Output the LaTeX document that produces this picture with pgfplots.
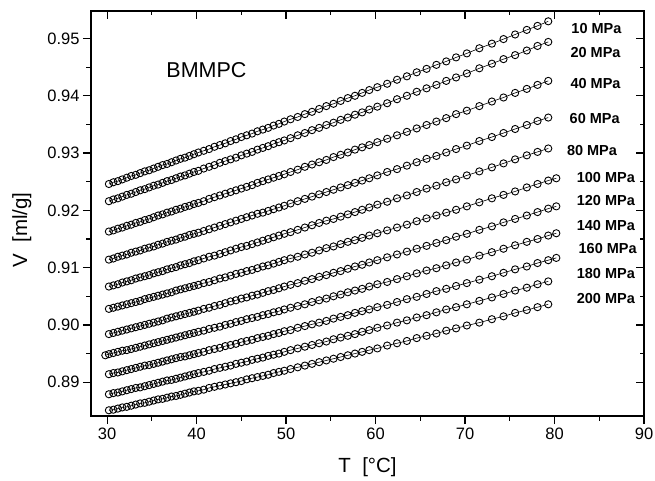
\documentclass[border=0pt]{standalone}
\usepackage{fontspec}
\setmainfont{Liberation Sans}
\usepackage{pgfplots}
\usepackage{pgfplotstable}
\pgfplotsset{compat=1.18}

% specific volume V [ml/g] against T [C], one column per pressure
% a=10 b=20 c=40 d=60 e=80 f=100 g=120 h=140 i=160 j=180 k=200 MPa
\pgfplotstableread{
T    a      b      c      d      e      f      g      h      i      j      k
29.8 nan    nan    nan    nan    nan    nan    nan    0.8947 nan    nan    nan
30.2 0.9246 0.9216 0.9163 0.9114 0.9067 0.9028 0.8984 0.8949 0.8914 0.8879 0.8851
30.7 0.9249 0.9219 0.9165 0.9116 0.9069 0.9030 0.8986 0.8951 0.8916 0.8881 0.8852
31.2 0.9251 0.9221 0.9168 0.9119 0.9071 0.9032 0.8988 0.8953 0.8917 0.8882 0.8854
31.7 0.9254 0.9224 0.9170 0.9121 0.9074 0.9034 0.8990 0.8955 0.8919 0.8884 0.8856
32.2 0.9257 0.9227 0.9173 0.9123 0.9076 0.9036 0.8992 0.8956 0.8921 0.8886 0.8857
32.7 0.9260 0.9229 0.9175 0.9126 0.9078 0.9038 0.8994 0.8958 0.8923 0.8888 0.8859
33.2 0.9262 0.9232 0.9178 0.9128 0.9081 0.9040 0.8996 0.8960 0.8925 0.8890 0.8861
33.7 0.9265 0.9235 0.9180 0.9130 0.9083 0.9042 0.8998 0.8962 0.8927 0.8891 0.8863
34.2 0.9268 0.9237 0.9183 0.9133 0.9085 0.9045 0.9000 0.8964 0.8929 0.8893 0.8864
34.7 0.9270 0.9240 0.9185 0.9135 0.9087 0.9047 0.9002 0.8966 0.8930 0.8895 0.8866
35.2 0.9273 0.9243 0.9188 0.9137 0.9090 0.9049 0.9004 0.8968 0.8932 0.8897 0.8868
35.7 0.9276 0.9245 0.9191 0.9140 0.9092 0.9051 0.9006 0.8970 0.8934 0.8899 0.8870
36.2 0.9279 0.9248 0.9193 0.9142 0.9094 0.9053 0.9008 0.8972 0.8936 0.8901 0.8871
36.7 0.9281 0.9251 0.9196 0.9145 0.9097 0.9055 0.9011 0.8974 0.8938 0.8903 0.8873
37.2 0.9284 0.9253 0.9198 0.9147 0.9099 0.9057 0.9013 0.8976 0.8940 0.8904 0.8875
37.7 0.9287 0.9256 0.9201 0.9149 0.9101 0.9060 0.9015 0.8978 0.8942 0.8906 0.8876
38.2 0.9290 0.9259 0.9203 0.9152 0.9104 0.9062 0.9017 0.8980 0.8944 0.8908 0.8878
38.7 0.9292 0.9261 0.9206 0.9154 0.9106 0.9064 0.9019 0.8982 0.8945 0.8910 0.8880
39.2 0.9295 0.9264 0.9208 0.9157 0.9108 0.9066 0.9021 0.8984 0.8947 0.8912 0.8882
39.7 0.9298 0.9267 0.9211 0.9159 0.9111 0.9068 0.9023 0.8986 0.8949 0.8914 0.8884
40.2 0.9301 0.9269 0.9213 0.9161 0.9113 0.9070 0.9025 0.8988 0.8951 0.8916 0.8885
40.8 0.9304 0.9273 0.9216 0.9164 0.9116 0.9073 0.9028 0.8990 0.8953 0.8918 0.8887
41.4 0.9307 0.9276 0.9220 0.9167 0.9119 0.9075 0.9030 0.8993 0.8956 0.8920 0.8890
42.0 0.9311 0.9279 0.9223 0.9170 0.9121 0.9078 0.9033 0.8995 0.8958 0.8923 0.8892
42.6 0.9314 0.9283 0.9226 0.9173 0.9124 0.9081 0.9035 0.8997 0.8960 0.8925 0.8894
43.2 0.9317 0.9286 0.9229 0.9176 0.9127 0.9083 0.9038 0.9000 0.8963 0.8927 0.8896
43.8 0.9321 0.9289 0.9232 0.9179 0.9130 0.9086 0.9041 0.9002 0.8965 0.8929 0.8898
44.4 0.9324 0.9292 0.9235 0.9182 0.9133 0.9089 0.9043 0.9005 0.8967 0.8932 0.8900
45.0 0.9328 0.9296 0.9238 0.9185 0.9136 0.9091 0.9046 0.9007 0.8970 0.8934 0.8902
45.6 0.9331 0.9299 0.9241 0.9188 0.9138 0.9094 0.9048 0.9010 0.8972 0.8936 0.8905
46.2 0.9334 0.9302 0.9244 0.9191 0.9141 0.9096 0.9051 0.9012 0.8974 0.8939 0.8907
46.8 0.9338 0.9306 0.9248 0.9194 0.9144 0.9099 0.9053 0.9014 0.8977 0.8941 0.8909
47.4 0.9341 0.9309 0.9251 0.9196 0.9147 0.9102 0.9056 0.9017 0.8979 0.8943 0.8911
48.0 0.9344 0.9312 0.9254 0.9199 0.9150 0.9104 0.9059 0.9019 0.8981 0.8946 0.8913
48.6 0.9348 0.9316 0.9257 0.9202 0.9153 0.9107 0.9061 0.9022 0.8984 0.8948 0.8916
49.2 0.9351 0.9319 0.9260 0.9205 0.9156 0.9110 0.9064 0.9024 0.8986 0.8950 0.8918
49.8 0.9355 0.9322 0.9263 0.9208 0.9159 0.9113 0.9067 0.9027 0.8989 0.8953 0.8920
50.5 0.9359 0.9326 0.9267 0.9212 0.9162 0.9116 0.9070 0.9030 0.8991 0.8956 0.8923
51.3 0.9363 0.9331 0.9271 0.9216 0.9166 0.9119 0.9073 0.9033 0.8995 0.8959 0.8926
52.1 0.9368 0.9335 0.9276 0.9220 0.9170 0.9123 0.9077 0.9036 0.8998 0.8962 0.8929
52.9 0.9372 0.9340 0.9280 0.9224 0.9174 0.9126 0.9080 0.9040 0.9001 0.8965 0.8932
53.7 0.9377 0.9344 0.9284 0.9228 0.9178 0.9130 0.9084 0.9043 0.9004 0.8968 0.8935
54.5 0.9382 0.9349 0.9288 0.9232 0.9182 0.9134 0.9087 0.9046 0.9007 0.8971 0.8938
55.3 0.9386 0.9353 0.9293 0.9236 0.9185 0.9137 0.9091 0.9050 0.9011 0.8975 0.8941
56.1 0.9391 0.9358 0.9297 0.9240 0.9189 0.9141 0.9094 0.9053 0.9014 0.8978 0.8944
56.9 0.9396 0.9362 0.9301 0.9244 0.9193 0.9145 0.9098 0.9057 0.9017 0.8981 0.8947
57.7 0.9400 0.9367 0.9306 0.9248 0.9197 0.9148 0.9102 0.9060 0.9021 0.8984 0.8950
58.5 0.9405 0.9371 0.9310 0.9252 0.9201 0.9152 0.9105 0.9063 0.9024 0.8988 0.8953
59.3 0.9410 0.9376 0.9314 0.9256 0.9205 0.9156 0.9109 0.9067 0.9027 0.8991 0.8956
60.2 0.9415 0.9381 0.9319 0.9261 0.9210 0.9160 0.9113 0.9071 0.9031 0.8995 0.8959
61.3 0.9421 0.9387 0.9325 0.9267 0.9215 0.9165 0.9118 0.9075 0.9035 0.8999 0.8964
62.4 0.9428 0.9394 0.9331 0.9272 0.9221 0.9170 0.9123 0.9080 0.9040 0.9004 0.8968
63.5 0.9434 0.9400 0.9337 0.9278 0.9226 0.9175 0.9128 0.9085 0.9045 0.9008 0.8972
64.6 0.9441 0.9407 0.9343 0.9284 0.9232 0.9181 0.9133 0.9090 0.9049 0.9013 0.8977
65.7 0.9447 0.9413 0.9349 0.9290 0.9238 0.9186 0.9138 0.9095 0.9054 0.9017 0.8981
66.8 0.9454 0.9419 0.9355 0.9295 0.9243 0.9191 0.9143 0.9099 0.9059 0.9022 0.8985
67.9 0.9460 0.9426 0.9361 0.9301 0.9249 0.9196 0.9148 0.9104 0.9063 0.9027 0.8990
69.0 0.9467 0.9432 0.9368 0.9307 0.9254 0.9201 0.9154 0.9109 0.9068 0.9031 0.8994
70.2 0.9474 0.9439 0.9374 0.9313 0.9261 0.9207 0.9159 0.9114 0.9073 0.9036 0.8999
71.6 0.9483 0.9448 0.9382 0.9321 0.9268 0.9214 0.9166 0.9121 0.9079 0.9042 0.9004
73.0 0.9491 0.9456 0.9390 0.9328 0.9275 0.9221 0.9172 0.9127 0.9085 0.9048 0.9010
74.3 0.9499 0.9464 0.9397 0.9335 0.9282 0.9227 0.9179 0.9133 0.9091 0.9054 0.9015
75.6 0.9507 0.9471 0.9405 0.9342 0.9289 0.9233 0.9185 0.9139 0.9097 0.9060 0.9021
76.9 0.9515 0.9479 0.9412 0.9349 0.9296 0.9240 0.9191 0.9145 0.9102 0.9065 0.9026
78.1 0.9522 0.9487 0.9419 0.9356 0.9302 0.9246 0.9197 0.9150 0.9108 0.9071 0.9031
79.3 0.9530 0.9494 0.9426 0.9362 0.9308 0.9252 0.9203 0.9156 0.9113 0.9076 0.9036
80.2 nan    nan    nan    nan    nan    0.9256 0.9207 0.9160 0.9117 nan    nan
}\vdata

\pgfplotsset{
  bmmpc frame/.style={
    scale only axis, width=553pt, height=405pt,
    at={(0pt,0pt)}, anchor=south west,
    xmin=28.2, xmax=90, ymin=0.8841, ymax=0.9548,
    xtick={30,40,...,90}, ytick={0.89,0.90,...,0.95},
    minor x tick num=1, minor y tick num=1,
    axis line style={line width=1.5pt},
    every tick/.style={black, line width=1.2pt},
    major tick length=8pt, minor tick length=4.5pt,
  },
}

\begin{document}
\begin{tikzpicture}
% ticks mirrored on top and right, pointing inward
\begin{axis}[bmmpc frame,
    xtick pos=upper, ytick pos=right, tick align=inside,
    xticklabels={}, yticklabels={}]
\end{axis}

\begin{axis}[bmmpc frame, name=ax, clip=false,
    xtick pos=lower, ytick pos=left, tick align=outside,
    tick label style={font=\fontsize{16.5}{16.5}\selectfont},
    /pgf/number format/assume math mode=true,
    yticklabel style={/pgf/number format/.cd, fixed, fixed zerofill, precision=2},
    xlabel={T\ \ [°C]}, ylabel={V\ \ [ml/g]},
    label style={font=\fontsize{20.5}{20.5}\selectfont},
    xlabel style={at={(axis description cs:0.5,-0.126)}, anchor=center},
    ylabel style={at={(axis description cs:-0.125,0.459)}, anchor=center},
]
\pgfplotsinvokeforeach{a,b,c,d,e,f,g,h,i,j,k}{
  \addplot[black, line width=0.6pt, mark=o, mark size=3.6pt,
           mark options={line width=0.9pt, fill=none}]
    table[x=T, y=#1] {\vdata};
}

\node[font=\fontsize{21.5}{21.5}\selectfont] at (axis cs:41.1,0.9445) {BMMPC};

\begin{scope}[every node/.style={anchor=west, font=\fontsize{14.5}{14.5}\selectfont\bfseries}]
\node at (axis cs:81.5,0.9518) {10 MPa};
\node at (axis cs:81.4,0.9476) {20 MPa};
\node at (axis cs:81.4,0.9422) {40 MPa};
\node at (axis cs:81.3,0.9361) {60 MPa};
\node at (axis cs:81.0,0.9305) {80 MPa};
\node at (axis cs:82.1,0.9258) {100 MPa};
\node at (axis cs:82.1,0.9217) {120 MPa};
\node at (axis cs:82.1,0.9174) {140 MPa};
\node at (axis cs:82.3,0.9134) {160 MPa};
\node at (axis cs:82.1,0.9090) {180 MPa};
\node at (axis cs:82.1,0.9046) {200 MPa};
\end{scope}
\end{axis}

\pgfresetboundingbox
\path ([shift={(-91pt,-64pt)}]ax.south west) rectangle ([shift={(11pt,11pt)}]ax.north east);
\end{tikzpicture}
\end{document}
